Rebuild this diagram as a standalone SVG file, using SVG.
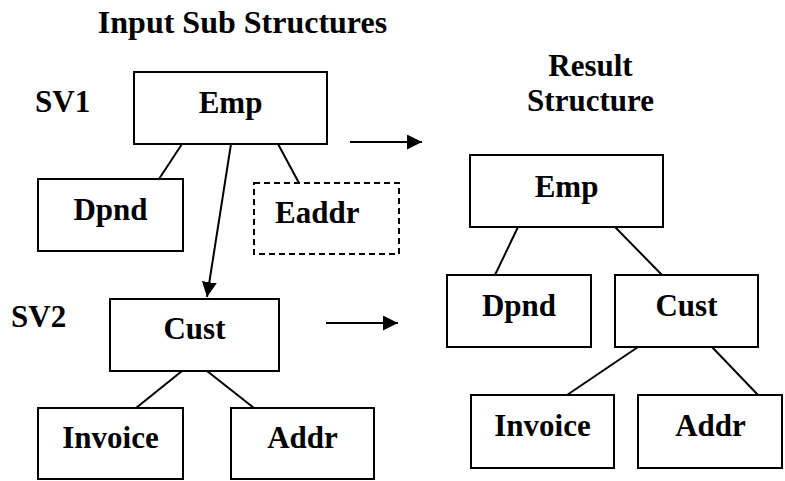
<svg xmlns="http://www.w3.org/2000/svg" width="785" height="481" viewBox="0 0 785 481">
<style>
text{font-family:'Liberation Serif','Nimbus Roman','Tinos','DejaVu Serif',serif;font-weight:700;font-size:31px;fill:#000}
.c{text-anchor:middle}
rect{fill:#fff;stroke:#000;stroke-width:2}
.d{stroke-dasharray:6,4}
line{stroke:#000;stroke-width:2}
</style>
<defs>
<marker id="ah" markerUnits="userSpaceOnUse" markerWidth="16" markerHeight="16" refX="15" refY="7.5" orient="auto" viewBox="0 0 16 16">
<path d="M0,0 L15,7.5 L0,15 z" fill="#000"/>
</marker>
</defs>
<g id="labels" font-family="Liberation Serif, serif">
<text x="242.5" y="33" class="c" style="font-size:32px">Input Sub Structures</text>
<text x="35" y="112">SV1</text>
<text x="11" y="327">SV2</text>
<text x="590.5" y="76" class="c">Result</text>
<text x="590.5" y="111" class="c">Structure</text>
</g>
<g id="connectors">
<line x1="182" y1="144" x2="159" y2="179"/>
<line x1="278" y1="144" x2="299" y2="183"/>
<line x1="231" y1="144" x2="207" y2="297" marker-end="url(#ah)"/>
<line x1="350" y1="142" x2="422" y2="142" marker-end="url(#ah)"/>
<line x1="182" y1="371" x2="136" y2="408"/>
<line x1="207" y1="371" x2="254" y2="408"/>
<line x1="326" y1="323" x2="398" y2="323" marker-end="url(#ah)"/>
<line x1="518" y1="227" x2="495" y2="275"/>
<line x1="615" y1="227" x2="662" y2="275"/>
<line x1="638" y1="347" x2="567" y2="395"/>
<line x1="712" y1="347" x2="758" y2="395"/>
</g>
<g id="sv1-emp"><rect x="134" y="72" width="193" height="72"/><text x="230.5" y="113" class="c">Emp</text></g>
<g id="sv1-dpnd"><rect x="38" y="179" width="145" height="72"/><text x="110.5" y="220" class="c">Dpnd</text></g>
<g id="sv1-eaddr"><rect x="254" y="183" width="145" height="71" class="d"/><text x="275" y="223">Eaddr</text></g>
<g id="sv2-cust"><rect x="110" y="299" width="169" height="72"/><text x="194.5" y="339" class="c">Cust</text></g>
<g id="sv2-invoice"><rect x="38" y="408" width="145" height="71"/><text x="110.5" y="448" class="c">Invoice</text></g>
<g id="sv2-addr"><rect x="231" y="408" width="143" height="71"/><text x="302.5" y="448" class="c">Addr</text></g>
<g id="res-emp"><rect x="470" y="155" width="193" height="72"/><text x="566.5" y="197" class="c">Emp</text></g>
<g id="res-dpnd"><rect x="447" y="275" width="144" height="72"/><text x="519" y="316" class="c">Dpnd</text></g>
<g id="res-cust"><rect x="615" y="275" width="143" height="72"/><text x="686.5" y="316" class="c">Cust</text></g>
<g id="res-invoice"><rect x="471" y="395" width="143" height="73"/><text x="542.5" y="436" class="c">Invoice</text></g>
<g id="res-addr"><rect x="638" y="395" width="144" height="73"/><text x="710.5" y="436" class="c">Addr</text></g>
</svg>
